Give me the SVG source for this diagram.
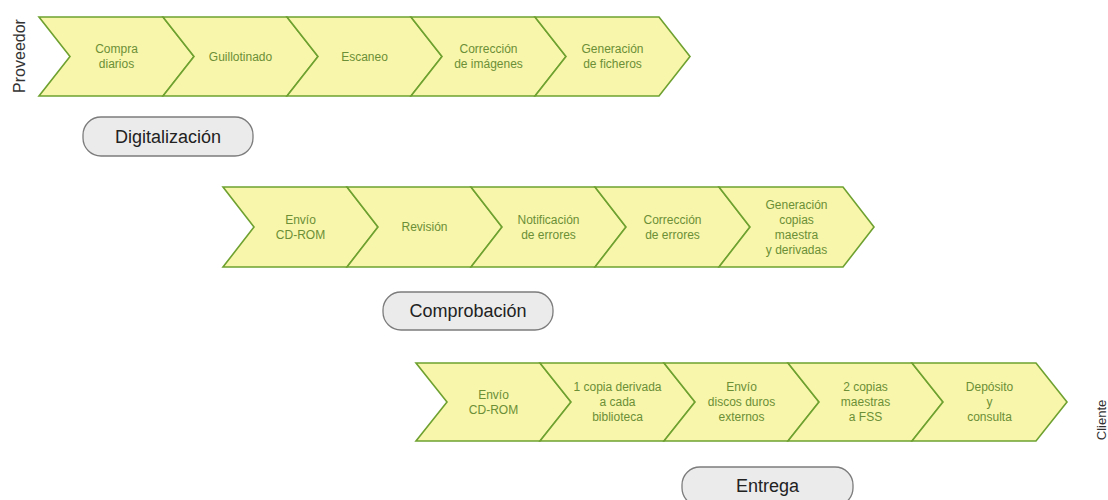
<svg xmlns="http://www.w3.org/2000/svg" width="1108" height="500" viewBox="0 0 1108 500">
<style>
.chev{fill:#f8f6aa;stroke:#6ea130;stroke-width:1.6;stroke-linejoin:miter}
.ct{font-family:"Liberation Sans",Arial,sans-serif;font-size:12px;fill:#6b8f37;text-anchor:middle}
.pill{fill:#ebebeb;stroke:#7c7c7c;stroke-width:1.3}
.pt{font-family:"Liberation Sans",Arial,sans-serif;font-size:18px;fill:#222;text-anchor:middle}
.lane{font-family:"Liberation Sans",Arial,sans-serif;fill:#333;text-anchor:middle}
</style>
<rect width="1108" height="500" fill="#ffffff"/>
<g id="lane-proveedor"><text class="lane" font-size="16" transform="translate(25,56) rotate(-90)">Proveedor</text></g>
<g id="lane-cliente"><text class="lane" font-size="13" transform="translate(1106,420) rotate(-90)">Cliente</text></g>

<g id="row1">
<g id="compra"><polygon class="chev" points="39,17 163,17 194,56.5 163,96 39,96 70,56.5"/><text class="ct" x="116.5" y="53">Compra</text><text class="ct" x="116.5" y="68">diarios</text></g>
<g id="guillotinado"><polygon class="chev" points="163,17 287,17 318,56.5 287,96 163,96 194,56.5"/><text class="ct" x="240.5" y="60.5">Guillotinado</text></g>
<g id="escaneo"><polygon class="chev" points="287,17 411,17 442,56.5 411,96 287,96 318,56.5"/><text class="ct" x="364.5" y="60.5">Escaneo</text></g>
<g id="correccion-imagenes"><polygon class="chev" points="411,17 535,17 566,56.5 535,96 411,96 442,56.5"/><text class="ct" x="488.5" y="53">Corrección</text><text class="ct" x="488.5" y="68">de imágenes</text></g>
<g id="generacion-ficheros"><polygon class="chev" points="535,17 659,17 690,56.5 659,96 535,96 566,56.5"/><text class="ct" x="612.5" y="53">Generación</text><text class="ct" x="612.5" y="68">de ficheros</text></g>
</g>

<g id="row2">
<g id="envio-cdrom-1"><polygon class="chev" points="223,187 347,187 378,227 347,267 223,267 254,227"/><text class="ct" x="300.5" y="223.5">Envío</text><text class="ct" x="300.5" y="238.5">CD-ROM</text></g>
<g id="revision"><polygon class="chev" points="347,187 471,187 502,227 471,267 347,267 378,227"/><text class="ct" x="424.5" y="231">Revisión</text></g>
<g id="notificacion"><polygon class="chev" points="471,187 595,187 626,227 595,267 471,267 502,227"/><text class="ct" x="548.5" y="223.5">Notificación</text><text class="ct" x="548.5" y="238.5">de errores</text></g>
<g id="correccion-errores"><polygon class="chev" points="595,187 719,187 750,227 719,267 595,267 626,227"/><text class="ct" x="672.5" y="223.5">Corrección</text><text class="ct" x="672.5" y="238.5">de errores</text></g>
<g id="generacion-copias"><polygon class="chev" points="719,187 843,187 874,227 843,267 719,267 750,227"/><text class="ct" x="796.5" y="208.5">Generación</text><text class="ct" x="796.5" y="223.5">copias</text><text class="ct" x="796.5" y="238.5">maestra</text><text class="ct" x="796.5" y="253.5">y derivadas</text></g>
</g>

<g id="row3">
<g id="envio-cdrom-2"><polygon class="chev" points="416,363 540,363 571,402 540,441 416,441 447,402"/><text class="ct" x="493.5" y="398.5">Envío</text><text class="ct" x="493.5" y="413.5">CD-ROM</text></g>
<g id="copia-derivada"><polygon class="chev" points="540,363 664,363 695,402 664,441 540,441 571,402"/><text class="ct" x="617.5" y="391">1 copia derivada</text><text class="ct" x="617.5" y="406">a cada</text><text class="ct" x="617.5" y="421">biblioteca</text></g>
<g id="envio-discos"><polygon class="chev" points="664,363 788,363 819,402 788,441 664,441 695,402"/><text class="ct" x="741.5" y="391">Envío</text><text class="ct" x="741.5" y="406">discos duros</text><text class="ct" x="741.5" y="421">externos</text></g>
<g id="copias-maestras"><polygon class="chev" points="788,363 912,363 943,402 912,441 788,441 819,402"/><text class="ct" x="865.5" y="391">2 copias</text><text class="ct" x="865.5" y="406">maestras</text><text class="ct" x="865.5" y="421">a FSS</text></g>
<g id="deposito"><polygon class="chev" points="912,363 1036,363 1067,402 1036,441 912,441 943,402"/><text class="ct" x="989.5" y="391">Depósito</text><text class="ct" x="989.5" y="406">y</text><text class="ct" x="989.5" y="421">consulta</text></g>
</g>

<g id="digitalizacion"><rect class="pill" x="83" y="117" width="170" height="39" rx="18"/><text class="pt" x="168" y="142.5">Digitalización</text></g>
<g id="comprobacion"><rect class="pill" x="383" y="292" width="170" height="38" rx="18"/><text class="pt" x="468" y="317">Comprobación</text></g>
<g id="entrega"><rect class="pill" x="682" y="467" width="171" height="39" rx="18"/><text class="pt" x="767.5" y="492">Entrega</text></g>

<g id="connectors"></g>
</svg>
